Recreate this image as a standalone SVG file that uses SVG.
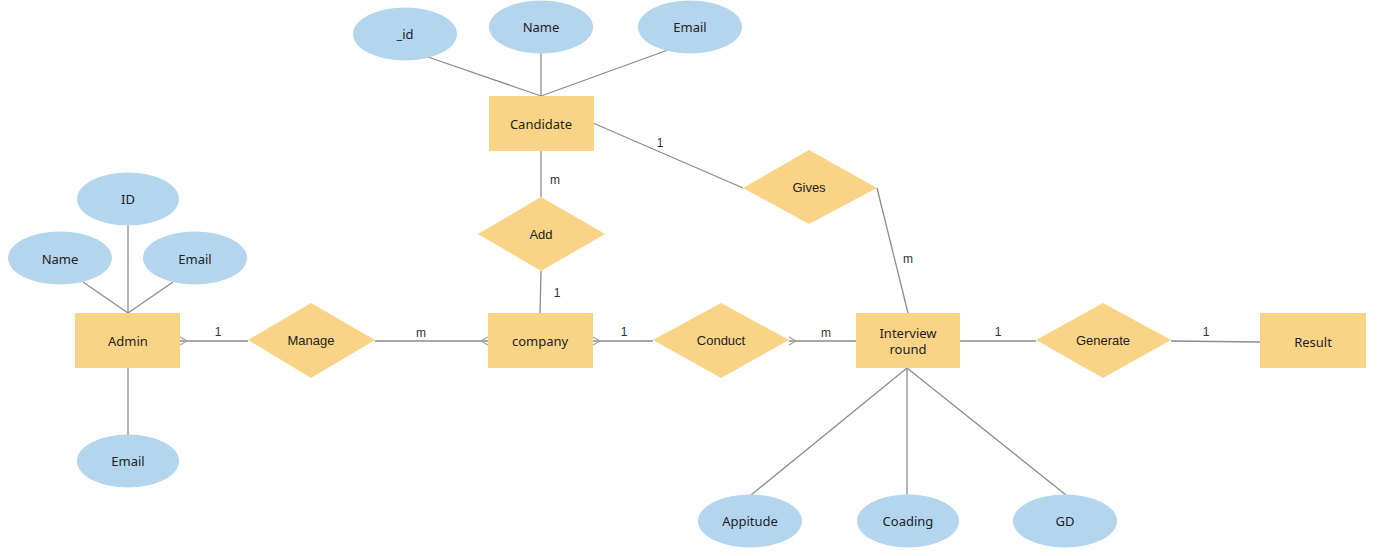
<svg xmlns="http://www.w3.org/2000/svg" width="1380" height="556" viewBox="0 0 1380 556">
<style>
.ent{fill:#fad486;}
.att{fill:#b3d6ee;}
.rel{fill:#fad486;}
.t{font-family:"Noto Sans","Open Sans","DejaVu Sans",sans-serif;font-size:13px;fill:#222;text-anchor:middle;dominant-baseline:central;}
.r{font-family:"Liberation Sans",Arial,sans-serif;font-size:13px;fill:#222;text-anchor:middle;dominant-baseline:central;}
.lb{font-family:"Liberation Sans",Arial,sans-serif;font-size:12px;fill:#333;text-anchor:middle;dominant-baseline:central;}
.c line,.c polyline{stroke:#8c8c8c;stroke-width:1.3;fill:none;}
</style>
<defs>
<marker id="many" markerWidth="10" markerHeight="10" refX="0" refY="5" orient="auto" markerUnits="userSpaceOnUse" overflow="visible">
<path d="M0,1 L7,5 L0,9" fill="none" stroke="#a0a0a0" stroke-width="1.2"/>
</marker>
</defs>
<rect width="1380" height="556" fill="#ffffff"/>
<g class="c" id="connectors">
<line x1="428" y1="57" x2="541" y2="96"/>
<line x1="541" y1="53" x2="541" y2="96"/>
<line x1="668" y1="50" x2="541" y2="96"/>
<line x1="593" y1="123" x2="743" y2="188"/>
<line x1="877" y1="188" x2="908" y2="313"/>
<line x1="541" y1="151" x2="541" y2="197"/>
<line x1="541" y1="271" x2="540" y2="313"/>
<line x1="128" y1="225" x2="128" y2="313"/>
<line x1="83" y1="282" x2="128" y2="313"/>
<line x1="173" y1="282" x2="128" y2="313"/>
<line x1="128" y1="368" x2="128" y2="435"/>
<line x1="180" y1="341" x2="248" y2="341" marker-start="url(#many)"/>
<line x1="488" y1="341" x2="375" y2="341" marker-start="url(#many)"/>
<line x1="593" y1="341" x2="653" y2="341" marker-start="url(#many)"/>
<line x1="789" y1="341" x2="856" y2="341" marker-start="url(#many)"/>
<line x1="960" y1="341" x2="1036" y2="341"/>
<line x1="1171" y1="341" x2="1260" y2="342"/>
<line x1="907" y1="368" x2="751" y2="495"/>
<line x1="907" y1="368" x2="907" y2="495"/>
<line x1="907" y1="368" x2="1066" y2="495"/>
<text class="lb" x="660" y="143">1</text>
<text class="lb" x="908" y="259">m</text>
<text class="lb" x="555" y="180">m</text>
<text class="lb" x="557" y="293">1</text>
<text class="lb" x="218" y="332">1</text>
<text class="lb" x="421" y="333">m</text>
<text class="lb" x="624" y="332">1</text>
<text class="lb" x="826" y="333">m</text>
<text class="lb" x="998" y="332">1</text>
<text class="lb" x="1206" y="332">1</text>
</g>
<g id="cand_id"><ellipse class="att" cx="405" cy="34" rx="52" ry="26.5"/><text class="t" x="405" y="34">_id</text></g>
<g id="cand_name"><ellipse class="att" cx="541" cy="27" rx="52" ry="26.5"/><text class="t" x="541" y="27">Name</text></g>
<g id="cand_email"><ellipse class="att" cx="690" cy="27" rx="52" ry="26.5"/><text class="t" x="690" y="27">Email</text></g>
<g id="candidate"><rect class="ent" x="489" y="96" width="105" height="55"/><text class="t" x="541" y="124">Candidate</text></g>
<g id="gives"><polygon class="rel" points="743,188 809,150 877,188 809,224"/><text class="r" x="809" y="187">Gives</text></g>
<g id="add"><polygon class="rel" points="478,234 541,197 605,234 541,271"/><text class="r" x="541" y="234">Add</text></g>
<g id="admin_id"><ellipse class="att" cx="128" cy="199" rx="51" ry="26.5"/><text class="t" x="128" y="199">ID</text></g>
<g id="admin_name"><ellipse class="att" cx="60" cy="258" rx="52" ry="26.5"/><text class="t" x="60" y="259">Name</text></g>
<g id="admin_email"><ellipse class="att" cx="195" cy="258" rx="52" ry="26.5"/><text class="t" x="195" y="259">Email</text></g>
<g id="admin"><rect class="ent" x="75" y="313" width="105" height="55"/><text class="t" x="128" y="341">Admin</text></g>
<g id="admin_email2"><ellipse class="att" cx="128" cy="461" rx="51" ry="26.5"/><text class="t" x="128" y="461">Email</text></g>
<g id="manage"><polygon class="rel" points="248,340 311,303 375,340 311,378"/><text class="r" x="311" y="340">Manage</text></g>
<g id="company"><rect class="ent" x="488" y="313" width="105" height="55"/><text class="t" x="540" y="341">company</text></g>
<g id="conduct"><polygon class="rel" points="653,340 721,303 789,340 721,378"/><text class="r" x="721" y="340">Conduct</text></g>
<g id="interview"><rect class="ent" x="856" y="313" width="104" height="55"/><text class="t" x="908" y="333">Interview</text><text class="t" x="908" y="349">round</text></g>
<g id="generate"><polygon class="rel" points="1036,340 1103,303 1171,340 1103,378"/><text class="r" x="1103" y="340">Generate</text></g>
<g id="result"><rect class="ent" x="1260" y="313" width="106" height="55"/><text class="t" x="1313" y="342">Result</text></g>
<g id="appitude"><ellipse class="att" cx="750" cy="521" rx="52" ry="26.5"/><text class="t" x="750" y="521">Appitude</text></g>
<g id="coading"><ellipse class="att" cx="908" cy="521" rx="51" ry="26.5"/><text class="t" x="908" y="521">Coading</text></g>
<g id="gd"><ellipse class="att" cx="1065" cy="521" rx="52" ry="26.5"/><text class="t" x="1065" y="521">GD</text></g>
</svg>
